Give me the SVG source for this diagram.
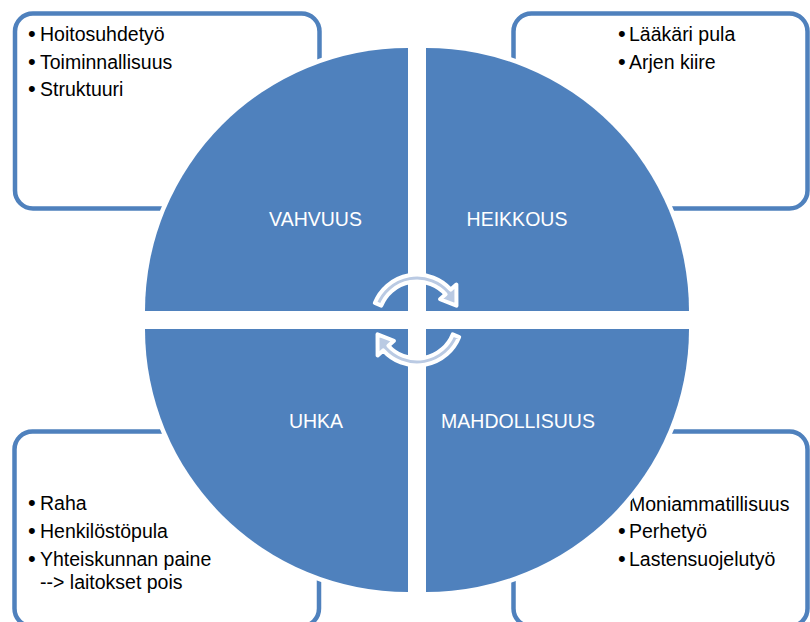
<svg xmlns="http://www.w3.org/2000/svg" width="810" height="622" viewBox="0 0 810 622">
  <style>
    .box { fill: #ffffff; stroke: #4F81BD; stroke-width: 4.5; }
    .item { font-family: "Liberation Sans", Arial, sans-serif; font-size: 19.5px; fill: #000000; }
    .dot { font-family: "Liberation Sans", Arial, sans-serif; font-size: 22px; fill: #000000; }
    .quad { fill: #4F81BD; stroke: #ffffff; stroke-width: 9; paint-order: stroke; stroke-linejoin: miter; }
    .label { font-family: "Liberation Sans", Arial, sans-serif; font-size: 19.5px; fill: #ffffff; text-anchor: middle; }
    .cyc { fill: #BACAE3; stroke: #ffffff; stroke-width: 4; stroke-linejoin: round; }
  </style>
  <rect width="810" height="622" fill="#ffffff"/>

  <!-- corner text panels -->
  <g id="panel-strengths">
    <rect class="box" x="15" y="13.5" width="304.5" height="195" rx="18"/>
    <text class="dot" x="28" y="41">•</text><text class="item" x="40" y="41">Hoitosuhdetyö</text>
    <text class="dot" x="28" y="68.5">•</text><text class="item" x="40" y="68.5">Toiminnallisuus</text>
    <text class="dot" x="28" y="96">•</text><text class="item" x="40" y="96">Struktuuri</text>
  </g>
  <g id="panel-weaknesses">
    <rect class="box" x="513.5" y="13.5" width="294" height="195" rx="18"/>
    <text class="dot" x="618" y="41">•</text><text class="item" x="629" y="41">Lääkäri pula</text>
    <text class="dot" x="618" y="68.5">•</text><text class="item" x="629" y="68.5">Arjen kiire</text>
  </g>
  <g id="panel-threats">
    <rect class="box" x="14.5" y="431.5" width="304.5" height="195" rx="18"/>
    <text class="dot" x="28" y="510">•</text><text class="item" x="40" y="510">Raha</text>
    <text class="dot" x="28" y="538">•</text><text class="item" x="40" y="538">Henkilöstöpula</text>
    <text class="dot" x="28" y="566">•</text><text class="item" x="40" y="566">Yhteiskunnan paine</text>
    <text class="item" x="40" y="588.5">--&gt; laitokset pois</text>
  </g>
  <g id="panel-opportunities">
    <rect class="box" x="513.5" y="431.5" width="294" height="195" rx="18"/>
    <text class="dot" x="618" y="510.5">•</text><text class="item" x="629" y="510.5">Moniammatillisuus</text>
    <text class="dot" x="618" y="538">•</text><text class="item" x="629" y="538">Perhetyö</text>
    <text class="dot" x="618" y="566">•</text><text class="item" x="629" y="566">Lastensuojelutyö</text>
  </g>

  <!-- quarter-circle segments -->
  <g id="quad-vahvuus">
    <path class="quad" d="M408 311 L145 311 A263 263 0 0 1 408 48 Z"/>
    <text class="label" x="315.5" y="226">VAHVUUS</text>
  </g>
  <g id="quad-heikkous">
    <path class="quad" d="M426 311 L426 48 A263 263 0 0 1 689 311 Z"/>
    <text class="label" x="517" y="226">HEIKKOUS</text>
  </g>
  <g id="quad-mahdollisuus">
    <path class="quad" d="M426 329 L689 329 A263 263 0 0 1 426 592 Z"/>
    <text class="label" x="518" y="428">MAHDOLLISUUS</text>
  </g>
  <g id="quad-uhka">
    <path class="quad" d="M408 329 L408 592 A263 263 0 0 1 145 329 Z"/>
    <text class="label" x="316" y="428">UHKA</text>
  </g>

  <!-- central cycle arrows -->
  <g id="connectors">
    <path id="cycle-top" class="cyc" d="M374.81 302.96 A45.5 45.5 0 0 1 450.81 289.56 L456.38 284.54 L456.47 305.64 L440.04 299.26 L445.61 294.24 A38.5 38.5 0 0 0 381.3 305.58 Z"/>
    <path id="cycle-bottom" class="cyc" transform="rotate(180 417 320)" d="M374.81 302.96 A45.5 45.5 0 0 1 450.81 289.56 L456.38 284.54 L456.47 305.64 L440.04 299.26 L445.61 294.24 A38.5 38.5 0 0 0 381.3 305.58 Z"/>
  </g>
</svg>
